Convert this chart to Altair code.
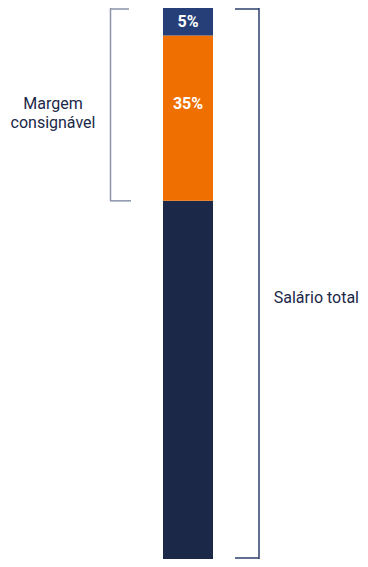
import altair as alt
import pandas as pd

# Data
segments = ["Salário restante", "Margem empréstimo", "Margem cartão"]
values = [65, 30, 5]
seg_colors = ["#1b2848", "#ef6f00", "#263f78"]
bar_labels = ["5%", "35%"]          # top label, margin label
margin_share = 5 + 30                 # margin consignável (%)
left_label = ["Margem", "consignável"]
right_label = "Salário total"

# Derived table
starts, ends = [], []
acc = 0
for v in values:
    starts.append(acc)
    acc += v
    ends.append(acc)
total = acc
df = pd.DataFrame({"seg": segments, "start": starts, "end": ends})

lbl_df = pd.DataFrame({
    "txt": bar_labels,
    "pos": [total - values[2] / 2, total - margin_share / 2],
})

yscale = alt.Scale(domain=[0, total], nice=False, zero=True)
W, H = 352, 551

bars = alt.Chart(df).mark_rect().encode(
    x=alt.value(155), x2=alt.value(205),
    y=alt.Y("start:Q", scale=yscale, axis=None),
    y2="end:Q",
    color=alt.Color("seg:N", scale=alt.Scale(domain=segments, range=seg_colors), legend=None),
)

labels = alt.Chart(lbl_df).mark_text(
    font="Roboto", fontSize=16, fontWeight="bold", color="white", baseline="middle", align="center"
).encode(
    x=alt.value(180),
    y=alt.Y("pos:Q", scale=yscale, axis=None),
    text="txt:N",
)

br_df = pd.DataFrame({"lo": [total - margin_share], "hi": [total], "mid": [total - margin_share / 2]})
left_col = "#8a93a8"
lv = alt.Chart(br_df).mark_rule(color=left_col, strokeWidth=1.5).encode(
    x=alt.value(102.5), y=alt.Y("lo:Q", scale=yscale, axis=None), y2="hi:Q")
lt = alt.Chart(br_df).mark_rule(color=left_col, strokeWidth=1.5).encode(
    x=alt.value(102), x2=alt.value(121), y=alt.value(1))
lb = alt.Chart(br_df).mark_rule(color=left_col, strokeWidth=1.5).encode(
    x=alt.value(102), x2=alt.value(123), y=alt.Y("lo:Q", scale=yscale, axis=None))

rb_df = pd.DataFrame({"lo": [0], "hi": [total]})
right_col = "#2d3f6b"
rv = alt.Chart(rb_df).mark_rule(color=right_col, strokeWidth=1.5).encode(
    x=alt.value(251), y=alt.Y("lo:Q", scale=yscale, axis=None), y2="hi:Q")
rt = alt.Chart(rb_df).mark_rule(color=right_col, strokeWidth=1.5).encode(
    x=alt.value(227), x2=alt.value(251), y=alt.value(1))
rbot = alt.Chart(rb_df).mark_rule(color=right_col, strokeWidth=1.5).encode(
    x=alt.value(227), x2=alt.value(251), y=alt.value(H - 1))

ltxt_df = pd.DataFrame({"txt": [left_label], "pos": [total - margin_share / 2]})
ltxt = alt.Chart(ltxt_df).mark_text(
    font="Roboto", fontSize=16, color="#1b2848", align="center", baseline="middle", lineHeight=19
).encode(
    x=alt.value(45), y=alt.Y("pos:Q", scale=yscale, axis=None), text="txt"
)

rtxt_df = pd.DataFrame({"txt": [right_label], "pos": [47.4]})
rtxt = alt.Chart(rtxt_df).mark_text(
    font="Roboto", fontSize=16, color="#1b2848", align="right", baseline="middle"
).encode(
    x=alt.value(W - 1), y=alt.Y("pos:Q", scale=yscale, axis=None), text="txt:N"
)

chart = alt.layer(bars, labels, lv, lt, lb, rv, rt, rbot, ltxt, rtxt).properties(
    width=W, height=H, padding=0, autosize=alt.AutoSizeParams(type="none")
).configure_view(stroke=None)

chart.save("out.html", embed_options={"renderer": "svg", "actions": False})
